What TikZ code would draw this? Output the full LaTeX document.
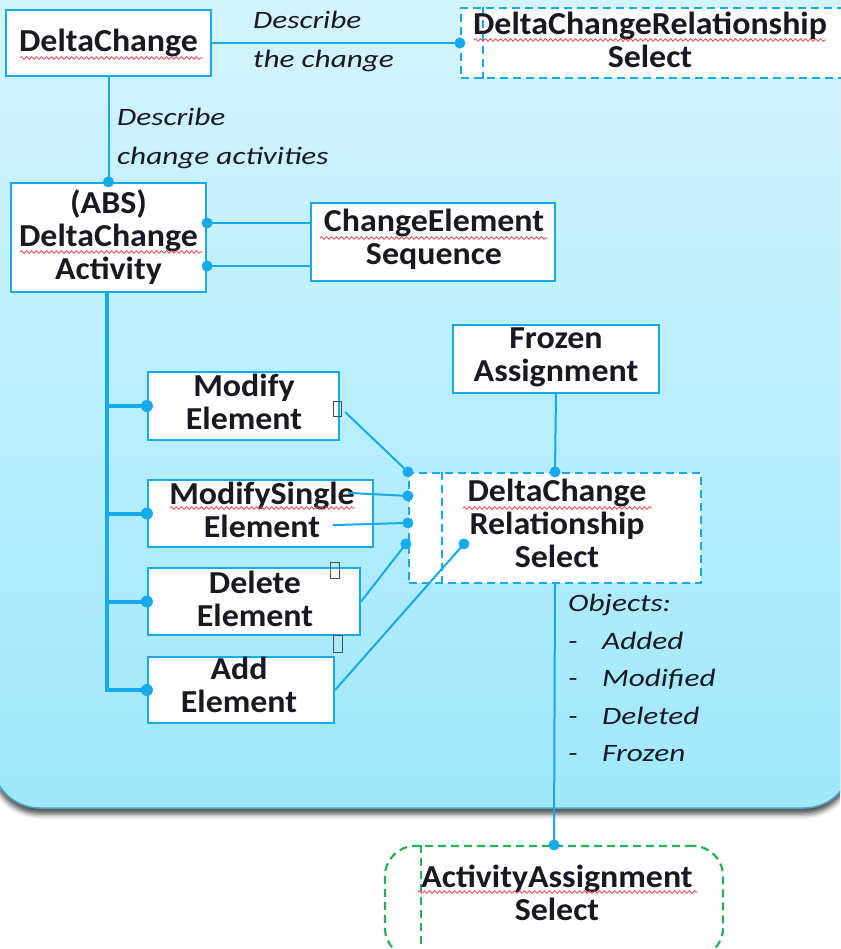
\documentclass[tikz,border=0pt]{standalone}
\usepackage{fontspec}
\setmainfont{Carlito}
\newfontfamily\lblfont{Carlito}[FakeStretch=1.25]
\newfontfamily\boxfont{Carlito}[FakeStretch=1.06]
\usetikzlibrary{decorations.pathmorphing,shadows.blur,calc}
\definecolor{lnblue}{RGB}{20,170,235}
\definecolor{bgtop}{RGB}{216,245,253}
\definecolor{bgbot}{RGB}{160,232,252}
\definecolor{bgedge}{RGB}{80,168,200}
\definecolor{grn}{RGB}{35,178,85}
\definecolor{txt}{RGB}{25,25,35}
\definecolor{wavyred}{RGB}{235,70,70}
\begin{document}
\begin{tikzpicture}[x=1pt,y=-1pt,
  box/.style={draw=lnblue, line width=2.2pt, fill=white, inner sep=0pt},
  dbox/.style={box, dash pattern=on 8pt off 5pt},
  gbox/.style={draw=grn, line width=2.2pt, fill=white, dash pattern=on 8pt off 5pt,
               rounded corners=30pt, inner sep=0pt},
  btext/.style={align=center, text=txt, font=\boxfont\bfseries\fontsize{32}{33}\selectfont, inner sep=0pt},
  dashln/.style={draw=lnblue, line width=2pt, dash pattern=on 8pt off 5pt},
  conn/.style={draw=lnblue, line width=2pt},
  trunk/.style={draw=lnblue, line width=4pt, line join=miter},
  lbl/.style={anchor=north west, align=left, inner sep=0pt, text=txt,
              font=\lblfont\itshape\fontsize{25}{39}\selectfont},
  wavy/.style={draw=wavyred, line width=0.8pt, decorate,
               decoration={snake, amplitude=1.3pt, segment length=5pt}},
  markbox/.style={draw=black!70, line width=1pt},
]
\useasboundingbox (0,0) rectangle (840,949);
% background panel
\begin{scope}
  \clip (0,0) rectangle (840,949);
  \path[top color=bgtop, bottom color=bgbot, draw=bgedge, line width=1.5pt,
        rounded corners=48pt,
        blur shadow={shadow xshift=0pt, shadow yshift=-6pt, shadow blur radius=5pt, shadow opacity=70}]
        (-8,-60) rectangle (852,808);
\end{scope}

% boxes
\node[box, minimum width=205pt, minimum height=66pt] (dc) at (108.5,43) {};
\node[btext] (dct) at (108.5,43) {DeltaChange};
\node[dbox, minimum width=391pt, minimum height=70pt] (dcrs) at (656.5,43) {};
\draw[dashln] ($(dcrs.north west)+(23,0)$) -- ($(dcrs.south west)+(23,0)$);
\node[btext] (dcrst) at (650,40) {DeltaChangeRelationship\\Select};

\node[box, minimum width=195pt, minimum height=109pt] (abs) at (108.5,237.5) {};
\node[btext] (abst) at (108.5,237) {(ABS)\\DeltaChange\\Activity};
\node[box, minimum width=244pt, minimum height=78pt] (ces) at (433,242) {};
\node[btext] (cest) at (434,239) {ChangeElement\\Sequence};
\node[box, minimum width=206pt, minimum height=68pt] (froz) at (556,359) {};
\node[btext] (frozt) at (556,357.5) {Frozen\\Assignment};
\node[box, minimum width=191pt, minimum height=68pt] (me) at (243.5,406) {};
\node[btext] (met) at (244,402) {Modify\\Element};
\node[box, minimum width=225pt, minimum height=67pt] (mse) at (260.5,513.5) {};
\node[btext] (mset) at (262,509.5) {ModifySingle\\Element};
\node[box, minimum width=212pt, minimum height=67pt] (de) at (254,601.5) {};
\node[btext] (det) at (255,598.5) {Delete\\Element};
\node[box, minimum width=186pt, minimum height=66pt] (ae) at (241,690) {};
\node[btext] (aet) at (239,684.5) {Add\\Element};
\node[dbox, minimum width=292pt, minimum height=110pt] (rel) at (555,528) {};
\draw[dashln] ($(rel.north west)+(34,0)$) -- ($(rel.south west)+(34,0)$);
\node[btext] (relt) at (557,523.5) {DeltaChange\\Relationship\\Select};

\node[gbox, minimum width=338pt, minimum height=112pt] (aas) at (554,902) {};
\draw[draw=grn, line width=2pt, dash pattern=on 8pt off 5pt] ($(aas.north west)+(37,0)$) -- ($(aas.south west)+(37,0)$);
\node[btext] (aast) at (557,893) {ActivityAssignment\\Select};

% labels
\node[lbl] (l1) at (253,11) {Describe\\the change};
\node[lbl] (l2) at (117,108) {Describe\\change activities};
\node[lbl, font=\lblfont\itshape\fontsize{25}{37.5}\selectfont] (l3) at (568,594)
  {Objects:\\\makebox[34pt][l]{-}Added\\\makebox[34pt][l]{-}Modified\\\makebox[34pt][l]{-}Deleted\\\makebox[34pt][l]{-}Frozen};

% connectors
\coordinate (h1) at (0,223);
\coordinate (h2) at (0,266);
\draw[conn] (dc.east) -- (dc.east -| dcrs.west);
\fill[lnblue] (dc.east -| dcrs.west) circle (5.5pt);
\draw[conn] (dc.south) -- (abs.north);
\fill[lnblue] (abs.north) circle (5.5pt);
\draw[conn] (ces.west |- h1) -- (abs.east |- h1);
\fill[lnblue] (abs.east |- h1) circle (5.5pt);
\draw[conn] (ces.west |- h2) -- (abs.east |- h2);
\fill[lnblue] (abs.east |- h2) circle (5.5pt);

\coordinate (tr) at ($(abs.south)+(-2,0)$);
\draw[trunk] (tr) -- (tr |- ae.west) -- (ae.west);
\draw[trunk] (tr |- me.west) -- (me.west);
\draw[trunk] (tr |- mse.west) -- (mse.west);
\draw[trunk] (tr |- de.west) -- (de.west);
\foreach \n in {me,mse,de,ae} \fill[lnblue] (\n.west) circle (6pt);

\coordinate (r1) at (rel.north west);
\coordinate (r2) at ($(rel.north west)+(0,24)$);
\coordinate (r3) at ($(rel.north west)+(0,51)$);
\coordinate (r4) at ($(rel.north west)+(-2,72)$);
\coordinate (r5) at ($(rel.north west)+(56,72)$);
\draw[conn] ($(me.east)+(5,6)$) -- (r1);
\draw[conn] ($(mse.north east)+(-26,14)$) -- (r2);
\draw[conn] ($(mse.south east)+(-41,-23)$) -- (r3);
\draw[conn] (de.east) -- (r4);
\draw[conn] (ae.east) -- (r5);
\foreach \c in {r1,r2,r3,r4,r5} \fill[lnblue] (\c) circle (5.5pt);

\draw[conn] (froz.south) -- (rel.north);
\fill[lnblue] (rel.north) circle (5.5pt);
\draw[conn] (rel.south) -- (aas.north);
\fill[lnblue] (aas.north) circle (5.5pt);

% spell-check underlines
\draw[wavy] (20,58) -- (203,58);
\draw[wavy] (20,252) -- (203,252);
\draw[wavy] (320,238) -- (548,238);
\draw[wavy] (474,40) -- (826,40);
\draw[wavy] (170,508) -- (355,508);
\draw[wavy] (463,508) -- (652,508);
\draw[wavy] (418,892) -- (698,892);

% small glyph boxes
\draw[markbox] (333,401) rectangle (341,416);
\draw[markbox] (330,562) rectangle (339,578);
\draw[markbox] (333,635) rectangle (342,652);
\end{tikzpicture}
\end{document}
